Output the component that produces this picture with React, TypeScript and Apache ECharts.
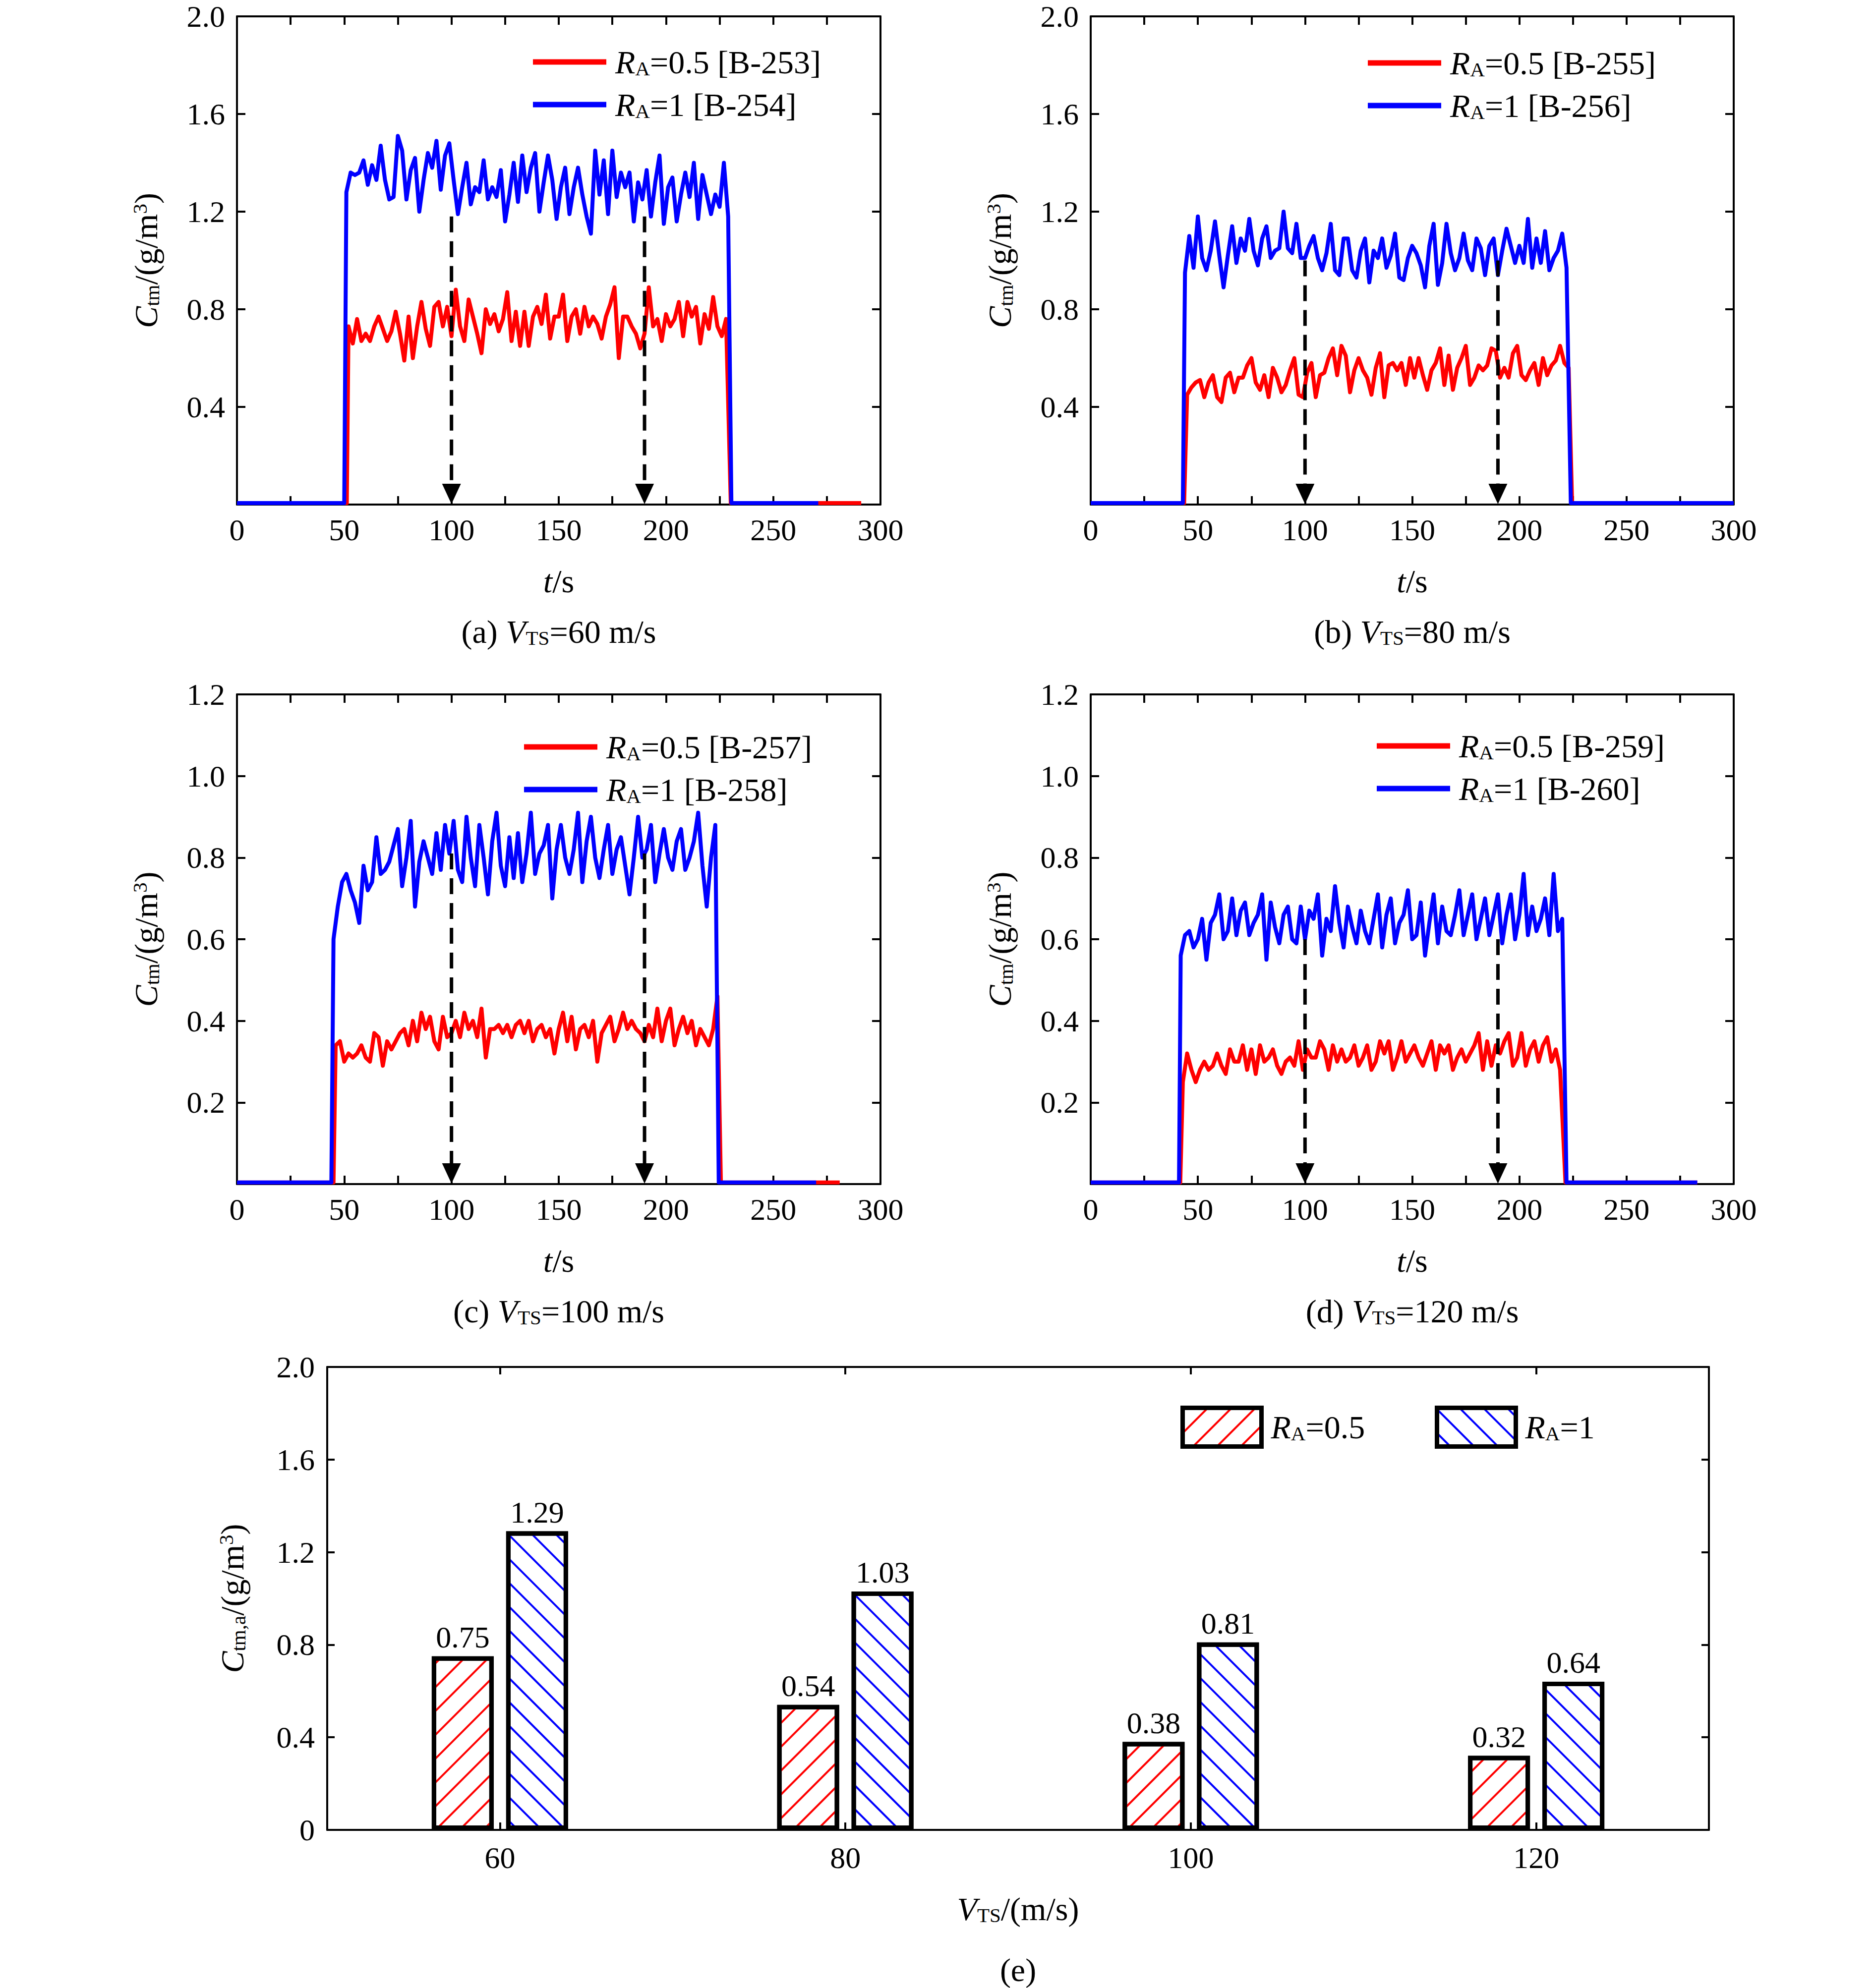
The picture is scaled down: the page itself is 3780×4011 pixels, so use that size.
import React, { useEffect, useRef } from 'react';
import * as echarts from 'echarts';

const FONT = '"Times New Roman", "Liberation Serif", serif';
const RED = '#ff0000';
const BLUE = '#0000ff';
const W = 3780;
const H = 4011;

// ---------------- time-series data (sampled every 2 s on the plateau) ----------------
// edges: [rise start, first plateau sample, drop end, end of baseline]
const A_RED_EDGES = [51.2, 52, 230.2, 291];
const A_RED = [
  0.73, 0.66, 0.76, 0.67, 0.70, 0.67, 0.73, 0.77, 0.72, 0.67,
  0.71, 0.79, 0.70, 0.59, 0.77, 0.60, 0.73, 0.83, 0.72, 0.65,
  0.81, 0.83, 0.73, 0.81, 0.69, 0.88, 0.73, 0.67, 0.84, 0.77,
  0.70, 0.62, 0.80, 0.74, 0.78, 0.71, 0.76, 0.87, 0.67, 0.79,
  0.65, 0.79, 0.65, 0.77, 0.81, 0.74, 0.86, 0.68, 0.77, 0.77,
  0.86, 0.67, 0.77, 0.80, 0.70, 0.81, 0.73, 0.77, 0.74, 0.68,
  0.77, 0.82, 0.89, 0.60, 0.77, 0.77, 0.73, 0.70, 0.64, 0.70,
  0.89, 0.73, 0.76, 0.67, 0.78, 0.73, 0.76, 0.83, 0.69, 0.83,
  0.77, 0.81, 0.66, 0.78, 0.72, 0.85, 0.73, 0.69, 0.76,
];
const A_BLUE_EDGES = [50.0, 51, 230.5, 271];
const A_BLUE = [
  1.28, 1.36, 1.35, 1.36, 1.41, 1.31, 1.39, 1.33, 1.47, 1.33,
  1.25, 1.26, 1.51, 1.45, 1.25, 1.37, 1.42, 1.20, 1.33, 1.44,
  1.38, 1.49, 1.29, 1.43, 1.48, 1.33, 1.19, 1.30, 1.40, 1.23,
  1.30, 1.28, 1.41, 1.25, 1.30, 1.26, 1.37, 1.16, 1.27, 1.40,
  1.24, 1.43, 1.28, 1.38, 1.44, 1.20, 1.32, 1.43, 1.33, 1.17,
  1.30, 1.38, 1.19, 1.30, 1.38, 1.27, 1.18, 1.11, 1.45, 1.27,
  1.41, 1.19, 1.45, 1.26, 1.36, 1.30, 1.36, 1.16, 1.32, 1.25,
  1.37, 1.18, 1.32, 1.43, 1.15, 1.30, 1.34, 1.16, 1.27, 1.36,
  1.26, 1.40, 1.17, 1.35, 1.27, 1.19, 1.27, 1.22, 1.40, 1.18,
];
const B_RED_EDGES = [43.6, 45, 224.6, 300];
const B_RED = [
  0.45, 0.48, 0.50, 0.51, 0.44, 0.50, 0.53, 0.44, 0.42, 0.52,
  0.54, 0.46, 0.52, 0.52, 0.57, 0.60, 0.50, 0.47, 0.53, 0.44,
  0.56, 0.52, 0.46, 0.49, 0.55, 0.60, 0.45, 0.44, 0.54, 0.58,
  0.44, 0.53, 0.54, 0.60, 0.64, 0.53, 0.65, 0.61, 0.46, 0.55,
  0.60, 0.55, 0.52, 0.45, 0.56, 0.62, 0.44, 0.57, 0.58, 0.55,
  0.58, 0.49, 0.60, 0.52, 0.60, 0.53, 0.47, 0.55, 0.58, 0.64,
  0.49, 0.61, 0.47, 0.56, 0.60, 0.65, 0.49, 0.52, 0.57, 0.55,
  0.57, 0.64, 0.63, 0.52, 0.56, 0.52, 0.62, 0.65, 0.53, 0.51,
  0.55, 0.58, 0.49, 0.60, 0.53, 0.57, 0.59, 0.65, 0.58, 0.56,
];
const B_BLUE_EDGES = [43.0, 44, 224.0, 300];
const B_BLUE = [
  0.95, 1.10, 0.97, 1.18, 1.01, 0.96, 1.04, 1.16, 1.02, 0.89,
  1.02, 1.14, 0.99, 1.09, 1.04, 1.17, 1.04, 0.98, 1.09, 1.14,
  1.01, 1.04, 1.05, 1.20, 1.05, 1.03, 1.15, 1.01, 1.01, 1.06,
  1.10, 1.01, 0.96, 1.03, 1.15, 0.96, 0.94, 1.09, 1.09, 0.96,
  0.93, 1.04, 1.09, 0.91, 1.04, 1.01, 1.09, 0.97, 1.02, 1.11,
  0.93, 0.92, 1.01, 1.06, 1.03, 0.98, 0.89, 1.06, 1.15, 0.90,
  0.99, 1.15, 1.03, 0.96, 1.01, 1.11, 1.00, 0.96, 1.09, 1.05,
  0.94, 1.06, 1.09, 0.94, 1.04, 1.13, 1.06, 0.99, 1.06, 0.99,
  1.17, 0.97, 1.09, 0.99, 1.12, 0.96, 1.01, 1.04, 1.11, 0.97,
];
const C_RED_EDGES = [45.0, 46, 225.6, 281];
const C_RED = [
  0.34, 0.35, 0.30, 0.32, 0.31, 0.32, 0.34, 0.31, 0.30, 0.37,
  0.36, 0.29, 0.35, 0.33, 0.35, 0.37, 0.38, 0.34, 0.40, 0.35,
  0.42, 0.38, 0.41, 0.35, 0.33, 0.41, 0.36, 0.37, 0.40, 0.36,
  0.42, 0.38, 0.40, 0.36, 0.43, 0.31, 0.38, 0.38, 0.39, 0.37,
  0.39, 0.36, 0.39, 0.40, 0.37, 0.40, 0.35, 0.38, 0.39, 0.36,
  0.38, 0.32, 0.38, 0.42, 0.35, 0.41, 0.33, 0.38, 0.39, 0.36,
  0.40, 0.30, 0.37, 0.39, 0.41, 0.35, 0.38, 0.42, 0.38, 0.40,
  0.38, 0.37, 0.35, 0.39, 0.36, 0.43, 0.35, 0.40, 0.43, 0.34,
  0.38, 0.41, 0.37, 0.40, 0.34, 0.38, 0.36, 0.34, 0.38, 0.46,
];
const C_BLUE_EDGES = [44.0, 45, 224.6, 270];
const C_BLUE = [
  0.60, 0.68, 0.74, 0.76, 0.72, 0.69, 0.64, 0.78, 0.72, 0.74,
  0.85, 0.76, 0.77, 0.79, 0.83, 0.87, 0.73, 0.80, 0.89, 0.68,
  0.79, 0.84, 0.80, 0.76, 0.86, 0.77, 0.88, 0.81, 0.89, 0.77,
  0.74, 0.90, 0.80, 0.73, 0.88, 0.80, 0.71, 0.84, 0.91, 0.78,
  0.73, 0.85, 0.75, 0.86, 0.74, 0.81, 0.91, 0.76, 0.81, 0.83,
  0.88, 0.70, 0.82, 0.88, 0.80, 0.76, 0.82, 0.91, 0.74, 0.84,
  0.90, 0.80, 0.75, 0.82, 0.88, 0.76, 0.82, 0.85, 0.78, 0.71,
  0.80, 0.90, 0.80, 0.82, 0.88, 0.74, 0.81, 0.87, 0.80, 0.77,
  0.84, 0.87, 0.77, 0.80, 0.84, 0.91, 0.78, 0.68, 0.80, 0.88,
];
const D_RED_EDGES = [41.8, 43, 221.5, 283];
const D_RED = [
  0.25, 0.32, 0.28, 0.25, 0.28, 0.30, 0.28, 0.29, 0.32, 0.29,
  0.27, 0.33, 0.30, 0.30, 0.34, 0.28, 0.33, 0.27, 0.34, 0.30,
  0.31, 0.33, 0.29, 0.27, 0.30, 0.31, 0.29, 0.35, 0.28, 0.33,
  0.31, 0.31, 0.35, 0.33, 0.28, 0.34, 0.30, 0.33, 0.30, 0.31,
  0.34, 0.29, 0.31, 0.34, 0.28, 0.30, 0.35, 0.32, 0.35, 0.28,
  0.31, 0.35, 0.30, 0.32, 0.34, 0.31, 0.29, 0.32, 0.35, 0.28,
  0.34, 0.32, 0.34, 0.28, 0.31, 0.33, 0.30, 0.32, 0.34, 0.37,
  0.28, 0.35, 0.29, 0.34, 0.32, 0.35, 0.37, 0.29, 0.31, 0.37,
  0.29, 0.33, 0.35, 0.30, 0.34, 0.36, 0.30, 0.33, 0.28,
];
const D_BLUE_EDGES = [41.2, 42, 222.0, 283];
const D_BLUE = [
  0.56, 0.61, 0.62, 0.58, 0.60, 0.65, 0.55, 0.64, 0.66, 0.71,
  0.60, 0.62, 0.70, 0.61, 0.67, 0.69, 0.61, 0.64, 0.66, 0.71,
  0.55, 0.69, 0.63, 0.59, 0.66, 0.68, 0.60, 0.59, 0.68, 0.60,
  0.67, 0.65, 0.71, 0.56, 0.65, 0.62, 0.73, 0.64, 0.58, 0.68,
  0.63, 0.59, 0.67, 0.62, 0.59, 0.65, 0.71, 0.58, 0.66, 0.70,
  0.59, 0.64, 0.66, 0.72, 0.60, 0.61, 0.69, 0.56, 0.64, 0.71,
  0.59, 0.68, 0.62, 0.61, 0.66, 0.72, 0.61, 0.66, 0.71, 0.60,
  0.65, 0.70, 0.61, 0.66, 0.71, 0.59, 0.66, 0.71, 0.60, 0.66,
  0.76, 0.61, 0.68, 0.62, 0.65, 0.70, 0.61, 0.76, 0.62, 0.65,
];
const SAMPLE_STEP = 2;

// averaging window marked by arrows, and where each dashed arrow starts
const AVG_WINDOW = [100, 190];
const ARROW_TOPS = [1.18, 1.0, 0.81, 0.6];

// panel texts
const PANEL_LETTERS = ['a', 'b', 'c', 'd'];
const PANEL_VTS = ['60', '80', '100', '120'];
const RA_LABELS = ['0.5', '1'];
const TEST_IDS = [
  ['B-253', 'B-254'],
  ['B-255', 'B-256'],
  ['B-257', 'B-258'],
  ['B-259', 'B-260'],
];
const Y_MAX = [2.0, 2.0, 1.2, 1.2];
const Y_STEP = [0.4, 0.4, 0.2, 0.2];
const BASELINE = [0.006, 0.006, 0.004, 0.004];

// bar chart (e)
const VTS_CATEGORIES = ['60', '80', '100', '120'];
const BAR_RA05 = [0.75, 0.54, 0.38, 0.32];
const BAR_RA1 = [1.29, 1.03, 0.81, 0.64];

// ---------------- layout ----------------
const GRIDS = [
  { left: 478, top: 33, width: 1298, height: 985 },
  { left: 2200, top: 33, width: 1297, height: 985 },
  { left: 478, top: 1401, width: 1298, height: 988 },
  { left: 2200, top: 1401, width: 1297, height: 988 },
  { left: 660, top: 2758, width: 2787, height: 934 },
];
const LEGEND_POS = [
  { left: 1075, top: 92 },
  { left: 2759, top: 94 },
  { left: 1057, top: 1474 },
  { left: 2777, top: 1472 },
];

function rich(size: number) {
  return {
    n: { fontSize: size, fontFamily: FONT, color: '#000', lineHeight: size },
    i: { fontSize: size, fontFamily: FONT, color: '#000', fontStyle: 'italic', lineHeight: size },
    s: {
      fontSize: Math.round(size * 0.62),
      fontFamily: FONT,
      color: '#000',
      lineHeight: Math.round(size * 0.3),
      verticalAlign: 'bottom',
    },
    p: {
      fontSize: Math.round(size * 0.62),
      fontFamily: FONT,
      color: '#000',
      lineHeight: Math.round(size * 0.4),
      verticalAlign: 'top',
    },
  };
}

function gtext(x: number, y: number, text: string, size: number, rotate = false) {
  return {
    type: 'text',
    x,
    y,
    rotation: rotate ? Math.PI / 2 : 0,
    z: 100,
    silent: true,
    style: {
      text,
      rich: rich(size),
      fontSize: size,
      fontFamily: FONT,
      fill: '#000',
      align: 'center',
      textAlign: 'center',
      verticalAlign: 'middle',
      textVerticalAlign: 'middle',
    },
  };
}

function buildLine(edges: number[], values: number[], base: number) {
  const [rise, first, drop, end] = edges;
  const pts: number[][] = [
    [0, base],
    [rise, base],
  ];
  values.forEach((v, i) => pts.push([first + SAMPLE_STEP * i, v]));
  pts.push([drop, base], [end, base]);
  return pts;
}

const AX = { color: '#000', width: 4 };
const LABEL_STYLE = { fontSize: 62, fontFamily: FONT, color: '#000' };

function buildOption() {
  const xAxis: any[] = [];
  const yAxis: any[] = [];
  const series: any[] = [];
  const legend: any[] = [];
  const graphic: any[] = [];

  const panelData = [
    [A_RED_EDGES, A_RED, A_BLUE_EDGES, A_BLUE],
    [B_RED_EDGES, B_RED, B_BLUE_EDGES, B_BLUE],
    [C_RED_EDGES, C_RED, C_BLUE_EDGES, C_BLUE],
    [D_RED_EDGES, D_RED, D_BLUE_EDGES, D_BLUE],
  ];

  for (let p = 0; p < 4; p++) {
    const xBase = {
      gridIndex: p,
      type: 'value',
      min: 0,
      max: 300,
      interval: 50,
      splitLine: { show: false },
      axisLine: { show: true, onZero: false, lineStyle: AX },
      axisTick: { show: true, inside: true, length: 17, lineStyle: AX },
      minorTick: { show: true, splitNumber: 2, length: 17, lineStyle: AX },
      minorSplitLine: { show: false },
    };
    xAxis.push({
      ...xBase,
      position: 'bottom',
      axisLabel: { ...LABEL_STYLE, show: true, margin: 20, showMinLabel: true, showMaxLabel: true },
    });
    xAxis.push({ ...xBase, position: 'top', axisLabel: { show: false } });
    const yBase = {
      gridIndex: p,
      type: 'value',
      min: 0,
      max: Y_MAX[p],
      interval: Y_STEP[p],
      splitLine: { show: false },
      axisLine: { show: true, onZero: false, lineStyle: AX },
      axisTick: { show: true, inside: true, length: 17, lineStyle: AX },
    };
    yAxis.push({
      ...yBase,
      position: 'left',
      axisLabel: {
        ...LABEL_STYLE,
        show: true,
        margin: 24,
        showMinLabel: true,
        showMaxLabel: true,
        formatter: (v: number) => (v === 0 ? '' : v.toFixed(1)),
      },
    });
    yAxis.push({ ...yBase, position: 'right', axisLabel: { show: false } });

    const [re, rv, be, bv] = panelData[p] as number[][];
    const redName = `${PANEL_LETTERS[p]}-red`;
    const blueName = `${PANEL_LETTERS[p]}-blue`;
    series.push({
      name: redName,
      type: 'line',
      xAxisIndex: p * 2,
      yAxisIndex: p * 2,
      data: buildLine(re, rv, BASELINE[p]),
      showSymbol: false,
      symbol: 'none',
      lineStyle: { color: RED, width: 8, join: 'round' },
      itemStyle: { color: RED },
      z: 2,
    });
    series.push({
      name: blueName,
      type: 'line',
      xAxisIndex: p * 2,
      yAxisIndex: p * 2,
      data: buildLine(be, bv, BASELINE[p]),
      showSymbol: false,
      symbol: 'none',
      lineStyle: { color: BLUE, width: 8, join: 'round' },
      itemStyle: { color: BLUE },
      z: 3,
    });
    series.push({
      type: 'custom',
      coordinateSystem: 'cartesian2d',
      xAxisIndex: p * 2,
      yAxisIndex: p * 2,
      data: AVG_WINDOW.map((t) => [t, ARROW_TOPS[p]]),
      encode: { x: 0, y: 1 },
      clip: false,
      silent: true,
      z: 5,
      renderItem: (params: any, api: any) => {
        const p0 = api.coord([api.value(0), api.value(1)]);
        const p1 = api.coord([api.value(0), 0]);
        const ah = 42;
        const aw = 19;
        return {
          type: 'group',
          children: [
            {
              type: 'line',
              shape: { x1: p0[0], y1: p0[1], x2: p1[0], y2: p1[1] - ah + 2 },
              style: { stroke: '#000', lineWidth: 7, lineDash: [32, 18] },
            },
            {
              type: 'polygon',
              shape: {
                points: [
                  [p1[0] - aw, p1[1] - ah],
                  [p1[0] + aw, p1[1] - ah],
                  [p1[0], p1[1] - 1],
                ],
              },
              style: { fill: '#000' },
            },
          ],
        };
      },
    });

    const labels: Record<string, string> = {
      [redName]: `{i|R}{s|A}{n|=${RA_LABELS[0]} [${TEST_IDS[p][0]}]}`,
      [blueName]: `{i|R}{s|A}{n|=${RA_LABELS[1]} [${TEST_IDS[p][1]}]}`,
    };
    legend.push({
      show: true,
      orient: 'vertical',
      left: LEGEND_POS[p].left,
      top: LEGEND_POS[p].top,
      padding: 0,
      itemWidth: 148,
      itemHeight: 11,
      itemGap: 20,
      icon: 'rect',
      selectedMode: false,
      data: [redName, blueName],
      formatter: (name: string) => labels[name],
      textStyle: { fontSize: 66, fontFamily: FONT, color: '#000', rich: rich(66), padding: [0, 0, 0, 13] },
    });

    const g = GRIDS[p];
    const cx = g.left + g.width / 2;
    const cy = g.top + g.height / 2;
    const bottom = g.top + g.height;
    graphic.push(gtext(cx, bottom + 154, '{i|t}{n|/s}', 66));
    graphic.push(
      gtext(cx, bottom + 256, `{n|(${PANEL_LETTERS[p]}) }{i|V}{s|TS}{n|=${PANEL_VTS[p]} m/s}`, 66)
    );
    graphic.push(gtext(g.left - 184, cy, '{i|C}{s|tm}{n|/(g/m}{p|3}{n|)}', 66, true));
  }

  // ---------------- bar panel (e) ----------------
  const gi = 4;
  const xbBase = {
    gridIndex: gi,
    type: 'category',
    data: VTS_CATEGORIES,
    boundaryGap: true,
    splitLine: { show: false },
    axisLine: { show: true, onZero: false, lineStyle: AX },
    axisTick: { show: true, inside: true, alignWithLabel: true, length: 15, lineStyle: AX },
  };
  xAxis.push({ ...xbBase, position: 'bottom', axisLabel: { ...LABEL_STYLE, margin: 25 } });
  xAxis.push({ ...xbBase, position: 'top', axisLabel: { show: false } });
  const ybBase = {
    gridIndex: gi,
    type: 'value',
    min: 0,
    max: 2.0,
    interval: 0.4,
    splitLine: { show: false },
    axisLine: { show: true, onZero: false, lineStyle: AX },
    axisTick: { show: true, inside: true, length: 15, lineStyle: AX },
  };
  yAxis.push({
    ...ybBase,
    position: 'left',
    axisLabel: {
      ...LABEL_STYLE,
      margin: 25,
      showMinLabel: true,
      showMaxLabel: true,
      formatter: (v: number) => (v === 0 ? '0' : v.toFixed(1)),
    },
  });
  yAxis.push({ ...ybBase, position: 'right', axisLabel: { show: false } });

  const barLabel = {
    show: true,
    position: 'top',
    distance: 8,
    ...LABEL_STYLE,
    formatter: (p: any) => Number(p.value).toFixed(2),
  };
  series.push({
    name: 'bar-05',
    type: 'bar',
    xAxisIndex: 8,
    yAxisIndex: 8,
    data: BAR_RA05,
    barWidth: 125,
    barGap: '20%',
    itemStyle: {
      color: '#ffffff',
      borderColor: '#000',
      borderWidth: 9,
      decal: {
        symbol: 'rect',
        symbolSize: 1,
        color: RED,
        dashArrayX: [1, 0],
        dashArrayY: [4, 30],
        rotation: -Math.PI / 4,
      },
    },
    label: barLabel,
    z: 3,
  });
  series.push({
    name: 'bar-1',
    type: 'bar',
    xAxisIndex: 8,
    yAxisIndex: 8,
    data: BAR_RA1,
    barWidth: 125,
    barGap: '20%',
    itemStyle: {
      color: '#ffffff',
      borderColor: '#000',
      borderWidth: 9,
      decal: {
        symbol: 'rect',
        symbolSize: 1,
        color: BLUE,
        dashArrayX: [1, 0],
        dashArrayY: [4, 30],
        rotation: Math.PI / 4,
      },
    },
    label: barLabel,
    z: 3,
  });
  const barLegendText: Record<string, string> = {
    'bar-05': `{i|R}{s|A}{n|=${RA_LABELS[0]}}`,
    'bar-1': `{i|R}{s|A}{n|=${RA_LABELS[1]}}`,
  };
  [
    { name: 'bar-05', left: 2381 },
    { name: 'bar-1', left: 2894 },
  ].forEach((it) => {
    legend.push({
      show: true,
      orient: 'horizontal',
      left: it.left,
      top: 2836,
      padding: 0,
      itemWidth: 159,
      itemHeight: 78,
      icon: 'rect',
      selectedMode: false,
      data: [it.name],
      itemStyle: { borderColor: '#000', borderWidth: 9 },
      formatter: (name: string) => barLegendText[name],
      textStyle: { fontSize: 66, fontFamily: FONT, color: '#000', rich: rich(66), padding: [0, 0, 0, 14] },
    });
  });

  const ge = GRIDS[gi];
  const ecx = ge.left + ge.width / 2;
  graphic.push(gtext(ge.left - 192, ge.top + ge.height / 2, '{i|C}{s|tm,a}{n|/(g/m}{p|3}{n|)}', 66, true));
  graphic.push(gtext(ecx, 3851, '{i|V}{s|TS}{n|/(m/s)}', 66));
  graphic.push(gtext(ecx, 3974, '{n|(e)}', 66));

  return {
    animation: false,
    backgroundColor: '#ffffff',
    textStyle: { fontFamily: FONT },
    grid: GRIDS.map((g) => ({ ...g, containLabel: false, show: false })),
    xAxis,
    yAxis,
    series,
    legend,
    graphic: { elements: graphic },
  };
}

export default function App() {
  const ref = useRef<HTMLDivElement>(null);
  useEffect(() => {
    if (!ref.current) return;
    const chart = echarts.init(ref.current, undefined, { renderer: 'svg', width: W, height: H });
    chart.setOption(buildOption() as any);
    return () => {
      chart.dispose();
    };
  }, []);
  return (
    <div
      ref={ref}
      style={{ position: 'absolute', left: 0, top: 0, width: W, height: H, background: '#fff' }}
    />
  );
}
